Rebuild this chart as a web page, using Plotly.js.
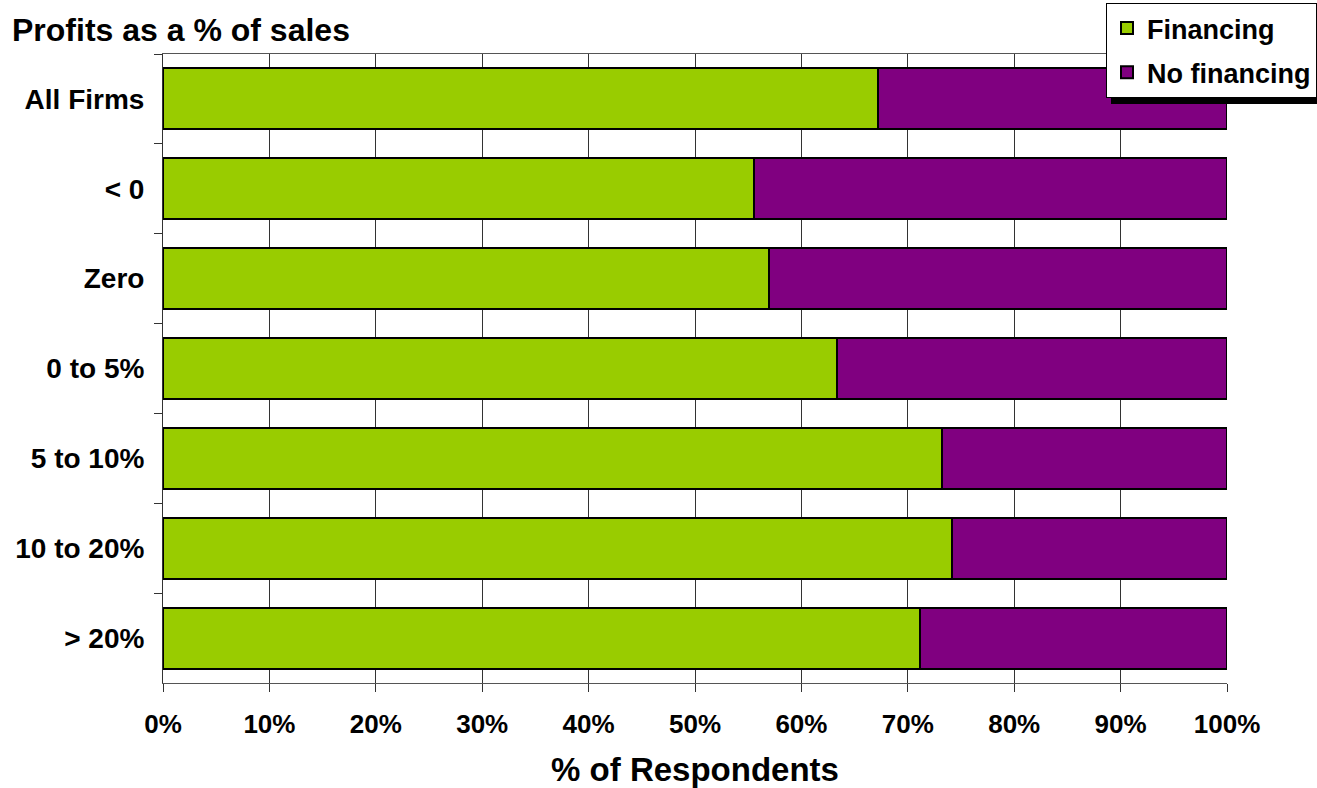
<!DOCTYPE html>
<html>
<head>
<meta charset="utf-8">
<script src="https://cdn.plot.ly/plotly-3.0.1.min.js"></script>
<style>html,body{margin:0;padding:0;background:#fff;}#chart{width:1317px;height:788px;}</style>
</head>
<body>
<div id="chart"></div>
<script>
var categories = ["All Firms", "< 0", "Zero", "0 to 5%", "5 to 10%", "10 to 20%", "> 20%"];
var financing = [0.672, 0.555, 0.570, 0.633, 0.732, 0.742, 0.711];
var noFinancing = [0.328, 0.445, 0.430, 0.367, 0.268, 0.258, 0.289];
var seriesNames = ["Financing", "No financing"];
var xTickVals = [0, 0.1, 0.2, 0.3, 0.4, 0.5, 0.6, 0.7, 0.8, 0.9, 1.0];
var xTickText = ["0%", "10%", "20%", "30%", "40%", "50%", "60%", "70%", "80%", "90%", "100%"];

var FONT = "Arial, 'Liberation Sans', sans-serif";
var L = 163, R = 1227, T = 54, B = 683;
function px(x) { return (x - L) / (R - L); }
function py(y) { return (B - y) / (B - T); }

var traces = [
  {type: "bar", orientation: "h", name: seriesNames[0], y: categories, x: financing, legendgroup: "a",
   marker: {color: "#99CC00", line: {color: "#000", width: 2}}, hoverinfo: "x+y"},
  {type: "bar", orientation: "h", name: seriesNames[1], y: categories, x: noFinancing, legendgroup: "b",
   marker: {color: "#800080", line: {color: "#000", width: 2}}, hoverinfo: "x+y"}
];

var layout = {
  width: 1317, height: 788,
  margin: {l: L, r: 1317 - R, t: T, b: 788 - B, pad: 0, autoexpand: false},
  paper_bgcolor: "#fff", plot_bgcolor: "#fff",
  barmode: "stack", bargap: 0.32,
  font: {family: FONT, color: "#000"},
  showlegend: true,
  legend: {
    x: px(1106), y: py(3), xanchor: "left", yanchor: "top",
    bgcolor: "#fff", bordercolor: "#000", borderwidth: 1,
    traceorder: "grouped", tracegroupgap: 6,
    font: {family: FONT, size: 27, color: "#000", weight: "bold"},
    itemwidth: 30
  },
  title: {text: "<b>Profits as a % of sales</b>", x: 12 / 1317, xanchor: "left", y: 1 - 30 / 788, yanchor: "middle",
          font: {family: FONT, size: 32, color: "#000"}},
  xaxis: {
    range: [0, 1], tickvals: xTickVals, ticktext: xTickText,
    showgrid: true, gridcolor: "#333", gridwidth: 1,
    ticks: "outside", ticklen: 8, tickcolor: "#333",
    showline: true, linecolor: "#555", linewidth: 1, mirror: true,
    zeroline: false,
    ticklabelstandoff: 10,
    tickfont: {family: FONT, size: 26, color: "#000", weight: "bold"},
    title: {text: "<b>% of Respondents</b>", font: {family: FONT, size: 33, color: "#000"}, standoff: 24}
  },
  yaxis: {
    type: "category", autorange: "reversed",
    tickson: "boundaries", ticks: "outside", ticklen: 8, tickcolor: "#333",
    showgrid: false, showline: true, linecolor: "#333", linewidth: 1,
    tickfont: {family: FONT, size: 28, color: "#000", weight: "bold"},
    ticklabelstandoff: 12
  },
  shapes: [
    {type: "rect", xref: "paper", yref: "paper", x0: px(1111), x1: px(1340), y0: py(104), y1: py(8),
     fillcolor: "#000", line: {width: 0}, layer: "above"}
  ]
};

Plotly.newPlot("chart", traces, layout, {displayModeBar: false});
</script>
</body>
</html>
